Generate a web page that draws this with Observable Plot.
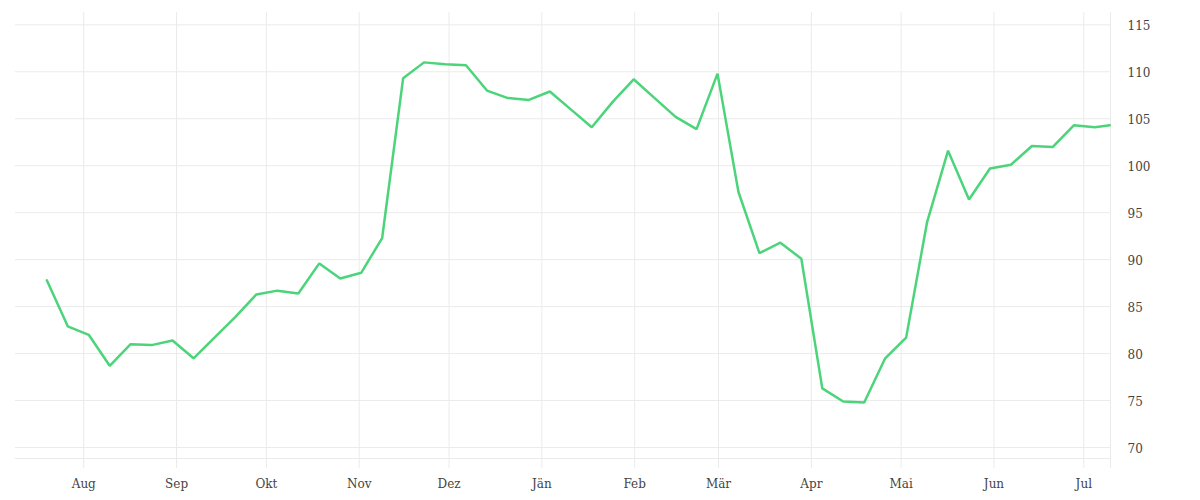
<!DOCTYPE html>
<html>
<head>
<meta charset="utf-8">
<script src="https://cdn.jsdelivr.net/npm/d3@7"></script>
<script src="https://cdn.jsdelivr.net/npm/@observablehq/plot@0.6"></script>
<style>
  html, body { margin: 0; padding: 0; background: #fff; }
</style>
</head>
<body>
<div id="chart"></div>
<script>
const dates = [
  "2022-07-20","2022-07-27","2022-08-03","2022-08-10","2022-08-17","2022-08-24","2022-08-31",
  "2022-09-07","2022-09-14","2022-09-21","2022-09-28","2022-10-05","2022-10-12","2022-10-19",
  "2022-10-26","2022-11-02","2022-11-09","2022-11-16","2022-11-23","2022-11-30","2022-12-07",
  "2022-12-14","2022-12-21","2022-12-28","2023-01-04","2023-01-11","2023-01-18","2023-01-25",
  "2023-02-01","2023-02-08","2023-02-15","2023-02-22","2023-03-01","2023-03-08","2023-03-15",
  "2023-03-22","2023-03-29","2023-04-05","2023-04-12","2023-04-19","2023-04-26","2023-05-03",
  "2023-05-10","2023-05-17","2023-05-24","2023-05-31","2023-06-07","2023-06-14","2023-06-21",
  "2023-06-28","2023-07-05","2023-07-10"
];
const values = [
  87.8, 82.9, 82.0, 78.7, 81.0, 80.9, 81.4, 79.5, 81.7, 83.9, 86.3, 86.7, 86.4, 89.6,
  88.0, 88.6, 92.3, 109.3, 111.0, 110.8, 110.7, 108.0, 107.2, 107.0, 107.9, 106.0, 104.1,
  106.8, 109.2, 107.2, 105.2, 103.9, 109.8, 97.2, 90.7, 91.8, 90.1, 76.3, 74.9, 74.8,
  79.5, 81.7, 94.0, 101.6, 96.4, 99.7, 100.1, 102.1, 102.0, 104.3, 104.1, 104.3
];
const monthLabels = ["Jän","Feb","Mär","Apr","Mai","Jun","Jul","Aug","Sep","Okt","Nov","Dez"];
const yTicks = [70, 75, 80, 85, 90, 95, 100, 105, 110, 115];
const xDomain = [new Date("2022-07-09T05:00:00Z"), new Date("2023-07-09T22:00:00Z")];
const yDomain = [68.83, 116.31];

const data = dates.map((d, i) => ({date: new Date(d + "T00:00:00Z"), value: values[i]}));
const monthTicks = d3.utcMonth.range(new Date("2022-08-01T00:00:00Z"), new Date("2023-07-02T00:00:00Z"));
const gridColor = "#ebebeb";

const chart = Plot.plot({
  width: 1200,
  height: 500,
  marginTop: 12,
  marginRight: 90,
  marginBottom: 42,
  marginLeft: 15,
  style: {fontFamily: "'DejaVu Serif', serif", fontSize: "12px", color: "#444", background: "white"},
  x: {type: "utc", domain: xDomain},
  y: {domain: yDomain},
  marks: [
    Plot.gridY(yTicks, {stroke: gridColor, strokeOpacity: 1}),
    Plot.gridX(monthTicks, {stroke: gridColor, strokeOpacity: 1}),
    Plot.ruleY([yDomain[0]], {stroke: gridColor, strokeOpacity: 1}),
    Plot.ruleX([xDomain[1]], {stroke: gridColor, strokeOpacity: 1, insetBottom: -10}),
    Plot.axisX(monthTicks, {
      tickSize: 10, tickPadding: 11, stroke: gridColor, fill: "#444", label: null,
      tickFormat: d => monthLabels[d.getUTCMonth()]
    }),
    Plot.axisY(yTicks, {anchor: "right", tickSize: 0, tickPadding: 17, dy: 1.5, fill: "#444", label: null}),
    Plot.lineY(data, {x: "date", y: "value", dx: -1, stroke: "#4cd47b", strokeWidth: 2.5, strokeLinejoin: "miter"})
  ]
});
document.getElementById("chart").appendChild(chart);
</script>
</body>
</html>
